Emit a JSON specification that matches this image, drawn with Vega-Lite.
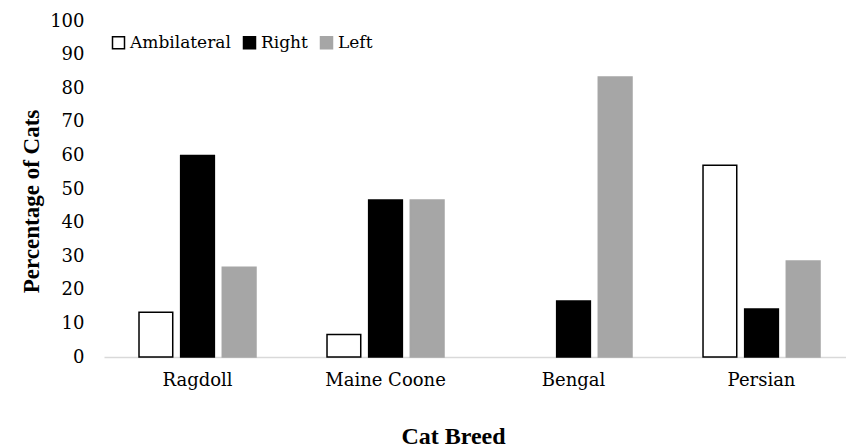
{
  "$schema": "https://vega.github.io/schema/vega-lite/v6.json",
  "autosize": {"type": "none"},
  "padding": {"left": 104, "top": 21, "right": 0, "bottom": 90},
  "width": 742,
  "height": 336,
  "background": "white",
  "config": {
    "font": "Liberation Serif",
    "view": {"stroke": null}
  },
  "data": {
    "values": [
      {"breed": "Ragdoll", "hand": "Ambilateral", "pct": 13.3},
      {"breed": "Ragdoll", "hand": "Right", "pct": 60.0},
      {"breed": "Ragdoll", "hand": "Left", "pct": 26.7},
      {"breed": "Maine Coone", "hand": "Ambilateral", "pct": 6.7},
      {"breed": "Maine Coone", "hand": "Right", "pct": 46.7},
      {"breed": "Maine Coone", "hand": "Left", "pct": 46.7},
      {"breed": "Bengal", "hand": "Ambilateral", "pct": 0},
      {"breed": "Bengal", "hand": "Right", "pct": 16.7},
      {"breed": "Bengal", "hand": "Left", "pct": 83.3},
      {"breed": "Persian", "hand": "Ambilateral", "pct": 57.1},
      {"breed": "Persian", "hand": "Right", "pct": 14.3},
      {"breed": "Persian", "hand": "Left", "pct": 28.6}
    ]
  },
  "mark": {"type": "bar"},
  "encoding": {
    "x": {
      "field": "breed",
      "type": "nominal",
      "sort": ["Ragdoll", "Maine Coone", "Bengal", "Persian"],
      "scale": {"paddingInner": 0.3777, "paddingOuter": 0.1622, "align": 0.574},
      "axis": {
        "title": "Cat Breed",
        "labelAngle": 0,
        "labelFont": "DejaVu Serif",
        "labelFontSize": 18,
        "labelColor": "#000000",
        "labelPadding": 14,
        "ticks": false,
        "domainColor": "#d9d9d9",
        "domainWidth": 1.5,
        "titleFont": "Liberation Serif",
        "titleFontSize": 24,
        "titleFontWeight": "bold",
        "titleColor": "#000000",
        "titleBaseline": "alphabetic",
        "titleX": 349,
        "titleY": 86
      }
    },
    "xOffset": {
      "field": "hand",
      "type": "nominal",
      "sort": ["Ambilateral", "Right", "Left"],
      "scale": {"paddingInner": 0.19, "paddingOuter": 0}
    },
    "y": {
      "field": "pct",
      "type": "quantitative",
      "scale": {"domain": [0, 100], "nice": false},
      "axis": {
        "title": "Percentage of Cats",
        "values": [0, 10, 20, 30, 40, 50, 60, 70, 80, 90, 100],
        "grid": false,
        "domain": false,
        "ticks": false,
        "labelFont": "DejaVu Serif",
        "labelFontSize": 18,
        "labelColor": "#000000",
        "labelPadding": 20,
        "titleFont": "Liberation Serif",
        "titleFontSize": 23,
        "titleFontWeight": "bold",
        "titleColor": "#000000",
        "titleBaseline": "middle",
        "titleX": -73,
        "titleY": 180
      }
    },
    "fill": {
      "field": "hand",
      "type": "nominal",
      "sort": ["Ambilateral", "Right", "Left"],
      "scale": {"domain": ["Ambilateral", "Right", "Left"], "range": ["#ffffff", "#000000", "#a6a6a6"]},
      "legend": {
        "title": null,
        "orient": "none",
        "legendX": 6,
        "legendY": 13,
        "direction": "horizontal",
        "symbolType": "square",
        "symbolSize": 144,
        "symbolStrokeWidth": 1.5,
        "labelFont": "DejaVu Serif",
        "labelFontSize": 17,
        "labelColor": "#000000",
        "labelOffset": 3,
        "columnPadding": 9
      }
    },
    "stroke": {
      "field": "hand",
      "type": "nominal",
      "sort": ["Ambilateral", "Right", "Left"],
      "scale": {"domain": ["Ambilateral", "Right", "Left"], "range": ["#000000", "#000000", "#a6a6a6"]},
      "legend": {
        "title": null,
        "orient": "none",
        "legendX": 6,
        "legendY": 13,
        "direction": "horizontal",
        "symbolType": "square",
        "symbolSize": 144,
        "symbolStrokeWidth": 1.5,
        "labelFont": "DejaVu Serif",
        "labelFontSize": 17,
        "labelColor": "#000000",
        "labelOffset": 3,
        "columnPadding": 9
      }
    },
    "strokeWidth": {
      "condition": {"test": "datum.pct > 0", "value": 1.5},
      "value": 0
    }
  }
}
